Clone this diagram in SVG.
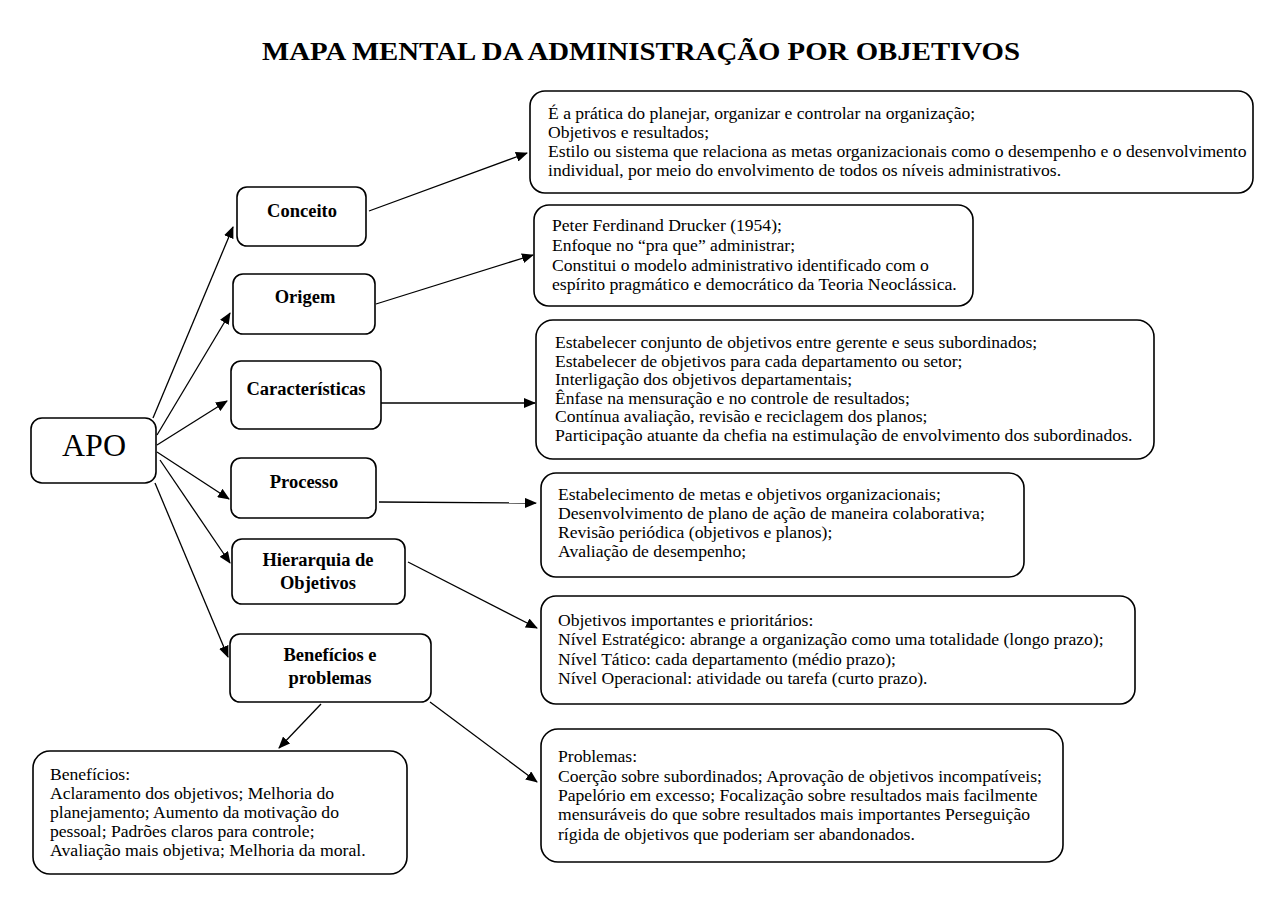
<svg xmlns="http://www.w3.org/2000/svg" width="1280" height="905" viewBox="0 0 1280 905">
<defs>
<style>
.box{fill:#fff;stroke:#000;stroke-width:1.6}
.lbl{font-family:"Liberation Serif","Times New Roman",serif;font-weight:bold;font-size:18.5px;fill:#000;text-anchor:middle}
.txt{font-family:"Liberation Serif","Times New Roman",serif;font-size:16px;fill:#000}
.con line{stroke:#000;stroke-width:1.3;marker-end:url(#ah)}
</style>
<marker id="ah" markerUnits="userSpaceOnUse" markerWidth="12" markerHeight="10" refX="11" refY="5" orient="auto" viewBox="0 0 12 10">
<path d="M0,0 L12,5 L0,10 Z" fill="#000"/>
</marker>
</defs>
<rect width="1280" height="905" fill="#fff"/>
<text x="641" y="60" font-family="Liberation Serif,'Times New Roman',serif" font-weight="bold" font-size="25" text-anchor="middle" textLength="758" lengthAdjust="spacingAndGlyphs">MAPA MENTAL DA ADMINISTRAÇÃO POR OBJETIVOS</text>

<g class="con">
<line x1="153" y1="418" x2="233" y2="227"/>
<line x1="157" y1="435" x2="230" y2="313"/>
<line x1="157" y1="445" x2="227" y2="401"/>
<line x1="157" y1="452" x2="229" y2="499"/>
<line x1="160" y1="460" x2="230" y2="563"/>
<line x1="155" y1="483" x2="228" y2="657"/>
<line x1="369" y1="211" x2="527" y2="153"/>
<line x1="376" y1="304" x2="533" y2="255"/>
<line x1="380" y1="403" x2="535" y2="403"/>
<line x1="379" y1="502" x2="536" y2="503"/>
<line x1="408" y1="562" x2="537" y2="628"/>
<line x1="430" y1="702" x2="537" y2="782"/>
<line x1="321" y1="704" x2="279" y2="748"/>
</g>

<g id="apo">
<rect class="box" x="31" y="418" width="125" height="65" rx="11"/>
<text x="94" y="456" font-family="Liberation Serif,'Times New Roman',serif" font-size="32" text-anchor="middle">APO</text>
</g>

<g id="conceito">
<rect class="box" x="237" y="187" width="129" height="59" rx="10"/>
<text class="lbl" x="302" y="217">Conceito</text>
</g>
<g id="origem">
<rect class="box" x="233" y="274" width="142" height="60" rx="10"/>
<text class="lbl" x="305" y="303">Origem</text>
</g>
<g id="caracteristicas">
<rect class="box" x="231" y="361" width="150" height="68" rx="10"/>
<text class="lbl" x="306" y="395">Características</text>
</g>
<g id="processo">
<rect class="box" x="231" y="458" width="145" height="60" rx="10"/>
<text class="lbl" x="304" y="488">Processo</text>
</g>
<g id="hierarquia">
<rect class="box" x="232" y="539" width="173" height="65" rx="10"/>
<text class="lbl" x="318" y="566">Hierarquia de</text>
<text class="lbl" x="318" y="589">Objetivos</text>
</g>
<g id="beneficios-problemas">
<rect class="box" x="230" y="634" width="201" height="68" rx="10"/>
<text class="lbl" x="330" y="661">Benefícios e</text>
<text class="lbl" x="330" y="684">problemas</text>
</g>

<g id="conceito-detalhe">
<rect class="box" x="530" y="91" width="723" height="102" rx="15"/>
<g transform="matrix(1.1,0,0,1,-54.8,0)">
<text class="txt" x="548" y="119">É a prática do planejar, organizar e controlar na organização;</text>
<text class="txt" x="548" y="138">Objetivos e resultados;</text>
<text class="txt" x="548" y="157" textLength="635" lengthAdjust="spacingAndGlyphs">Estilo ou sistema que relaciona as metas organizacionais como o desempenho e o desenvolvimento</text>
<text class="txt" x="548" y="176">individual, por meio do envolvimento de todos os níveis administrativos.</text>
</g>
</g>

<g id="origem-detalhe">
<rect class="box" x="534" y="205" width="439" height="101" rx="15"/>
<g transform="matrix(1.1,0,0,1,-55.2,0)">
<text class="txt" x="552" y="231">Peter Ferdinand Drucker (1954);</text>
<text class="txt" x="552" y="251">Enfoque no “pra que” administrar;</text>
<text class="txt" x="552" y="271">Constitui o modelo administrativo identificado com o</text>
<text class="txt" x="552" y="290" textLength="368" lengthAdjust="spacingAndGlyphs">espírito pragmático e democrático da Teoria Neoclássica.</text>
</g>
</g>

<g id="caracteristicas-detalhe">
<rect class="box" x="536" y="320" width="618" height="139" rx="17"/>
<g transform="matrix(1.1,0,0,1,-55.5,0)">
<text class="txt" x="555" y="348">Estabelecer conjunto de objetivos entre gerente e seus subordinados;</text>
<text class="txt" x="555" y="367">Estabelecer de objetivos para cada departamento ou setor;</text>
<text class="txt" x="555" y="385">Interligação dos objetivos departamentais;</text>
<text class="txt" x="555" y="404">Ênfase na mensuração e no controle de resultados;</text>
<text class="txt" x="555" y="422">Contínua avaliação, revisão e reciclagem dos planos;</text>
<text class="txt" x="555" y="441" textLength="525" lengthAdjust="spacingAndGlyphs">Participação atuante da chefia na estimulação de envolvimento dos subordinados.</text>
</g>
</g>

<g id="processo-detalhe">
<rect class="box" x="541" y="473" width="483" height="104" rx="15"/>
<g transform="matrix(1.1,0,0,1,-55.8,0)">
<text class="txt" x="558" y="500">Estabelecimento de metas e objetivos organizacionais;</text>
<text class="txt" x="558" y="519" textLength="388" lengthAdjust="spacingAndGlyphs">Desenvolvimento de plano de ação de maneira colaborativa;</text>
<text class="txt" x="558" y="538">Revisão periódica (objetivos e planos);</text>
<text class="txt" x="558" y="557">Avaliação de desempenho;</text>
</g>
</g>

<g id="hierarquia-detalhe">
<rect class="box" x="541" y="596" width="594" height="108" rx="15"/>
<g transform="matrix(1.1,0,0,1,-55.8,0)">
<text class="txt" x="558" y="626">Objetivos importantes e prioritários:</text>
<text class="txt" x="558" y="645" textLength="496" lengthAdjust="spacingAndGlyphs">Nível Estratégico: abrange a organização como uma totalidade (longo prazo);</text>
<text class="txt" x="558" y="665">Nível Tático: cada departamento (médio prazo);</text>
<text class="txt" x="558" y="684">Nível Operacional: atividade ou tarefa (curto prazo).</text>
</g>
</g>

<g id="problemas">
<rect class="box" x="541" y="729" width="522" height="133" rx="17"/>
<g transform="matrix(1.1,0,0,1,-55.8,0)">
<text class="txt" x="558" y="762">Problemas:</text>
<text class="txt" x="558" y="782" textLength="440" lengthAdjust="spacingAndGlyphs">Coerção sobre subordinados; Aprovação de objetivos incompatíveis;</text>
<text class="txt" x="558" y="801" textLength="436" lengthAdjust="spacingAndGlyphs">Papelório em excesso; Focalização sobre resultados mais facilmente</text>
<text class="txt" x="558" y="820">mensuráveis do que sobre resultados mais importantes Perseguição</text>
<text class="txt" x="558" y="840">rígida de objetivos que poderiam ser abandonados.</text>
</g>
</g>

<g id="beneficios">
<rect class="box" x="33" y="751" width="374" height="123" rx="17"/>
<g transform="matrix(1.1,0,0,1,-5,0)">
<text class="txt" x="50" y="780">Benefícios:</text>
<text class="txt" x="50" y="799">Aclaramento dos objetivos; Melhoria do</text>
<text class="txt" x="50" y="818">planejamento; Aumento da motivação do</text>
<text class="txt" x="50" y="837">pessoal; Padrões claros para controle;</text>
<text class="txt" x="50" y="856" textLength="287" lengthAdjust="spacingAndGlyphs">Avaliação mais objetiva; Melhoria da moral.</text>
</g>
</g>
</svg>
